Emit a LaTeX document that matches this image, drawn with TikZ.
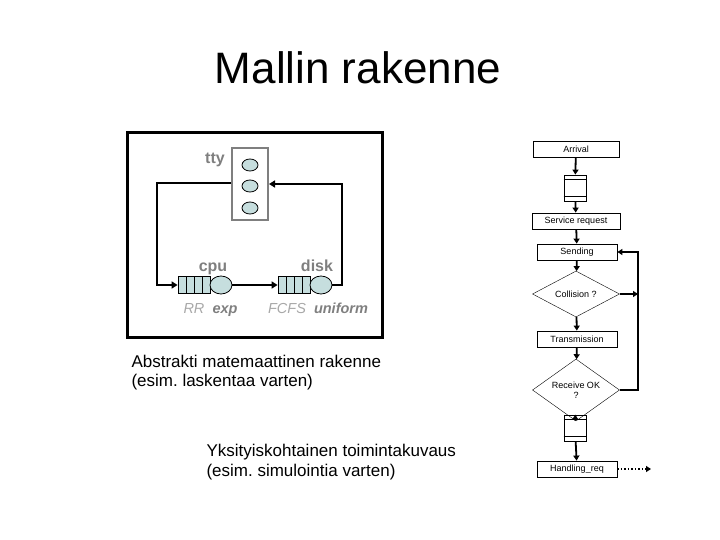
\documentclass[tikz,border=0pt]{standalone}
\usepackage{fontspec}
\setmainfont{Liberation Sans}
\usetikzlibrary{shapes.geometric,arrows.meta}
\definecolor{lb}{HTML}{C6DEDE}
\definecolor{gt}{HTML}{7F7F7F}
\definecolor{lgt}{HTML}{A8A8A8}
\frenchspacing
\begin{document}
\begin{tikzpicture}[x=1pt,y=-1pt,
  fbox/.style={draw,thick,minimum width=80pt,minimum height=16pt,font=\fontsize{9}{10}\selectfont,inner sep=1pt},
  dia/.style={draw,diamond,aspect=1.9,minimum width=87pt,minimum height=46pt,inner sep=0pt,font=\fontsize{9}{10}\selectfont,align=center},
  qbox/.style={draw,thick,minimum width=22pt,minimum height=26pt},
  farr/.style={line width=1.8pt,-{Triangle[length=5pt,width=6pt]}},
  carr/.style={line width=2.5pt,-{Triangle[length=6pt,width=7pt]}},
  srv/.style={draw,thick,fill=lb,ellipse,minimum width=22pt,minimum height=18pt,inner sep=0pt},
  tcirc/.style={draw,thick,fill=lb,ellipse,minimum width=16pt,minimum height=12pt,inner sep=0pt},
  cq/.style={draw,thick,fill=lb,minimum width=32pt,minimum height=17pt,inner sep=0pt},
  glab/.style={text=gt,anchor=base,inner sep=0pt,font=\bfseries\fontsize{16}{18}\selectfont},
  ilab/.style={anchor=base,inner sep=0pt,font=\itshape\fontsize{14.5}{17}\selectfont},
  big/.style={font=\fontsize{17}{20}\selectfont,align=left,anchor=west}]
\useasboundingbox (0,0) rectangle (720,540);
\node (title) at (358,68) {\fontsize{44}{50}\selectfont Mallin rakenne};
% left model
\node (frame) [draw,line width=2.5pt,minimum width=255pt,minimum height=205pt] at (255,235) {};
\node (tty) [draw,gt,line width=2pt,minimum width=36pt,minimum height=72pt] at (250,184) {};
\node (t1) [tcirc] at (250,165) {};
\node (t2) [tcirc] at (250,186) {};
\node (t3) [tcirc] at (250,208) {};
\node (ttyl) [glab] at (215,164) {tty};
\node (cpuq) [cq] at (194,285) {};
\foreach \x in {186,194,202}{\draw[thick] (\x,276.5) -- (\x,293.5);}
\node (cpus) [srv] at (221,285) {};
\node (diskq) [cq] at (294,285) {};
\foreach \x in {286,294,302}{\draw[thick] (\x,276.5) -- (\x,293.5);}
\node (disks) [srv] at (321,285) {};
\node (cpul) [glab] at (213,271) {cpu};
\node (diskl) [glab] at (317,271) {disk};
\node (rr) [ilab,text=lgt] at (194,313) {RR};
\node (exp) [ilab,text=gt,font=\bfseries\itshape\fontsize{14.5}{17}\selectfont] at (225,313) {exp};
\node (fcfs) [ilab,text=lgt] at (287,313) {FCFS};
\node (unif) [ilab,text=gt,font=\bfseries\itshape\fontsize{14.5}{17}\selectfont] at (341,313) {uniform};
\draw[carr] (tty.west |- 0,183) -- (157,183) -- (157,285) -- (cpuq.west);
\draw[carr] (cpus.east) -- (diskq.west);
\draw[carr] (disks.east) -- (342,285) -- (342,184) -- (tty.east |- 0,184);
\node (t1a) [big] at (128,361) {Abstrakti matemaattinen rakenne};
\node (t1b) [big] at (128,382) {(esim. laskentaa varten)};
\node (t2a) [big] at (203,452) {Yksityiskohtainen toimintakuvaus};
\node (t2b) [big] at (203,472) {(esim. simulointia varten)};
% flowchart
\node (arr) [fbox,minimum width=86pt] at (576,149) {Arrival};
\node (q1) [qbox] at (575,188) {};
\draw[thick] (q1.west |- 0,179.3) -- (q1.east |- 0,179.3) (q1.west |- 0,196.7) -- (q1.east |- 0,196.7);
\node (sr) [fbox,minimum width=88pt] at (576,221) {Service request};
\node (snd) [fbox] at (577,252) {Sending};
\node (col) [dia] at (576,294) {Collision ?};
\node (tr) [fbox] at (577,339) {Transmission};
\node (rok) [dia,minimum height=62pt] at (576,390) {Receive OK\\?};
\node (q2) [qbox] at (575,428) {};
\draw[thick] (q2.west |- 0,419.3) -- (q2.east |- 0,419.3) (q2.west |- 0,436.7) -- (q2.east |- 0,436.7);
\node (hr) [fbox] at (577,469) {Handling\_req};
\coordinate (hend) at (651,469);
\draw[farr] (arr) -- (q1);
\draw[farr] (q1) -- (sr);
\draw[farr] (sr) -- (snd);
\draw[farr] (snd) -- (col);
\draw[farr] (col) -- (tr);
\draw[farr] (tr) -- (rok);
\draw[farr] (rok) -- (q2);
\draw[farr] (q2) -- (hr);
\draw[farr] (col.east) -- (638,294);
\draw[farr] (rok.east) -- (638,390) -- (638,252) -- (snd.east);
\draw[line width=1.5pt,dotted,-{Triangle[length=5pt,width=6pt]}] (hr.east) -- (hend);
\end{tikzpicture}
\end{document}
